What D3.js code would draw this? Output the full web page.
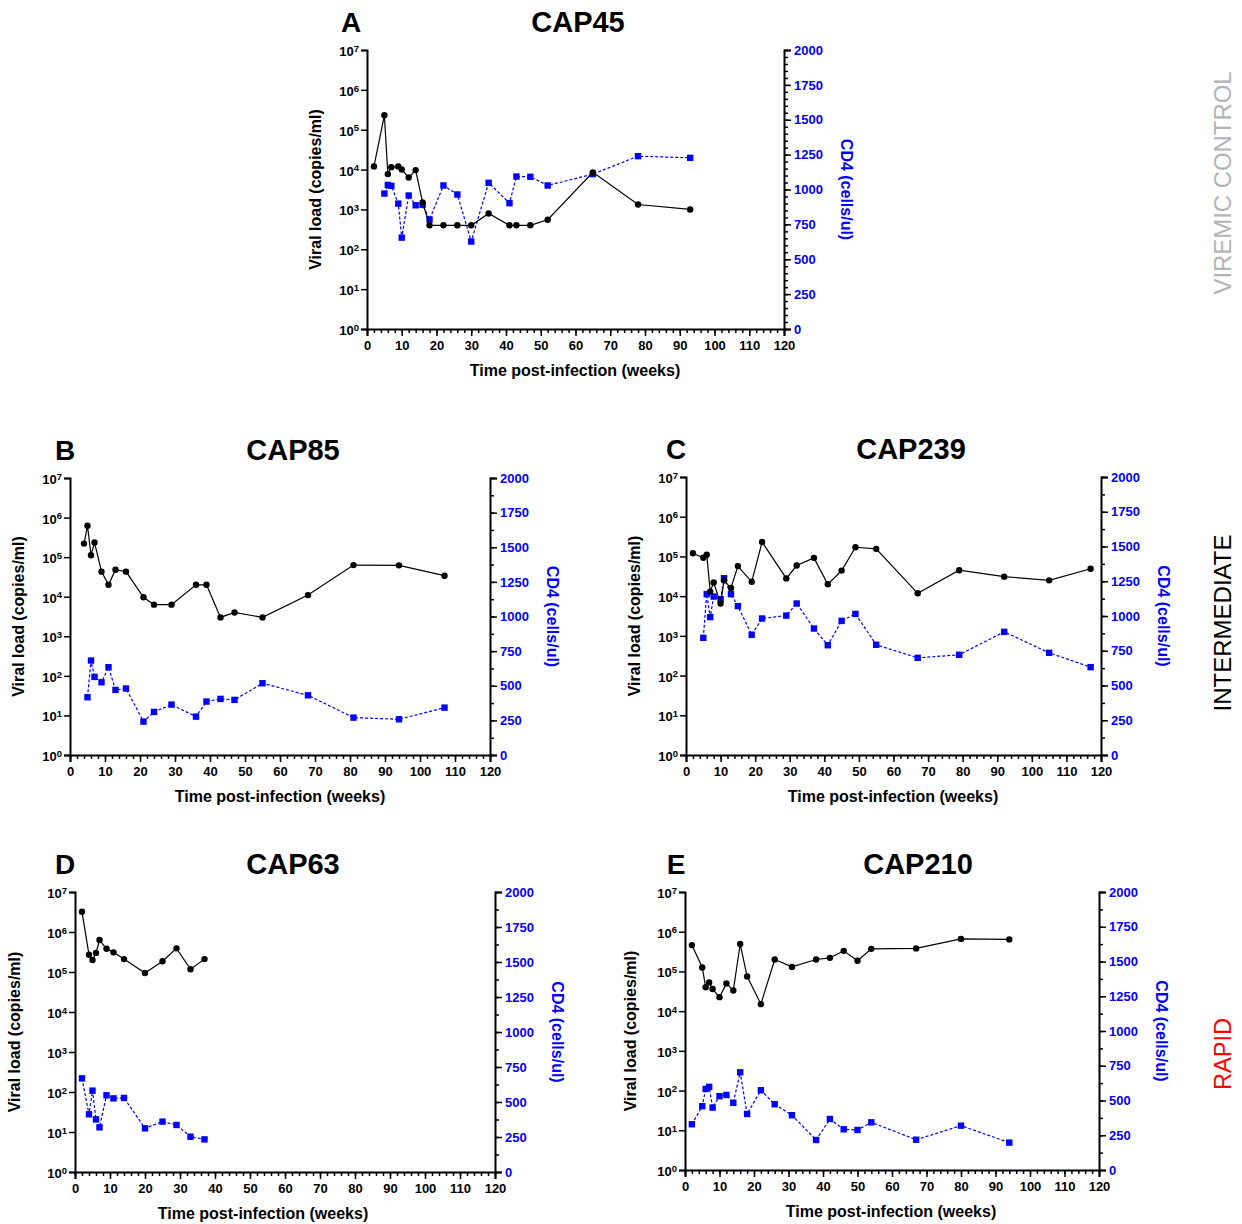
<!DOCTYPE html>
<html>
<head>
<meta charset="utf-8">
<script src="https://cdn.jsdelivr.net/npm/d3@7"></script>
<style>
  body { margin: 0; background: #fff; }
  svg { font-family: "Liberation Sans", Arial, Helvetica, sans-serif; }
</style>
</head>
<body>
<div id="container"></div>
<script>
// data: weeks, viral load (copies/ml), CD4 (cells/ul)
let cap45Weeks = [2, 5, 6, 7, 9, 10, 12, 14, 16, 18, 22, 26, 30, 35, 41, 43, 47, 52, 65, 78, 93];
let cap45VL    = [12000, 230000, 7700, 11500, 12000, 10000, 6300, 9700, 1500, 400, 400, 400, 400, 790, 400, 400, 400, 550, 8500, 1330, 1000];
let cap45CD4Weeks = [5, 6, 7, 9, 10, 12, 14, 16, 18, 22, 26, 30, 35, 41, 43, 47, 52, 65, 78, 93];
let cap45CD4      = [971, 1033, 1026, 899, 655, 957, 887, 890, 785, 1029, 964, 627, 1048, 902, 1093, 1091, 1029, 1110, 1239, 1227];

let cap85Weeks = [4, 5, 6, 7, 9, 11, 13, 16, 21, 24, 29, 36, 39, 43, 47, 55, 68, 81, 94, 107];
let cap85VL    = [220000, 620000, 112000, 235000, 43000, 20000, 48000, 43000, 9700, 6300, 6300, 20000, 20000, 3000, 4000, 3000, 11000, 63000, 62000, 34000];
let cap85CD4Weeks = [5, 6, 7, 9, 11, 13, 16, 21, 24, 29, 36, 39, 43, 47, 55, 68, 81, 94, 107];
let cap85CD4      = [417, 682, 564, 525, 634, 470, 480, 241, 311, 364, 277, 386, 405, 398, 518, 431, 270, 258, 342];

let cap239Weeks = [2, 5, 6, 7, 8, 10, 11, 13, 15, 19, 22, 29, 32, 37, 41, 45, 49, 55, 67, 79, 92, 105, 117];
let cap239VL    = [120000, 93000, 110000, 13000, 22000, 6500, 25000, 16000, 57000, 23000, 230000, 28000, 59000, 92000, 20000, 44000, 170000, 155000, 11800, 45000, 31000, 25000, 49000];
let cap239CD4Weeks = [5, 6, 7, 8, 10, 11, 13, 15, 19, 22, 29, 32, 37, 41, 45, 49, 55, 67, 79, 92, 105, 117];
let cap239CD4      = [843, 1157, 992, 1140, 1121, 1272, 1157, 1071, 865, 982, 1003, 1090, 910, 790, 965, 1015, 793, 699, 721, 886, 735, 632];

let cap63Weeks = [2, 4, 5, 6, 7, 9, 11, 14, 20, 25, 29, 33, 37];
let cap63VL    = [3200000, 270000, 200000, 300000, 630000, 380000, 310000, 210000, 94000, 185000, 390000, 117000, 210000];
let cap63CD4Weeks = [2, 4, 5, 6, 7, 9, 11, 14, 20, 25, 29, 33, 37];
let cap63CD4      = [669, 412, 581, 376, 319, 548, 526, 529, 312, 360, 336, 252, 233];

let cap210Weeks = [2, 5, 6, 7, 8, 10, 12, 14, 16, 18, 22, 26, 31, 38, 42, 46, 50, 54, 67, 80, 94];
let cap210VL    = [460000, 126000, 40000, 53000, 36000, 22500, 50000, 33000, 490000, 75000, 15000, 200000, 130000, 200000, 220000, 330000, 185000, 370000, 380000, 660000, 640000];
let cap210CD4Weeks = [2, 5, 6, 7, 8, 10, 12, 14, 16, 18, 22, 26, 31, 38, 42, 46, 50, 54, 67, 80, 94];
let cap210CD4      = [329, 459, 583, 598, 449, 531, 540, 483, 703, 403, 574, 473, 394, 216, 367, 293, 288, 343, 218, 319, 197];

let panelLetters = ["A", "B", "C", "D", "E"];
let panelNames   = ["CAP45", "CAP85", "CAP239", "CAP63", "CAP210"];

let vlTicks  = [1, 10, 100, 1e3, 1e4, 1e5, 1e6, 1e7];
let cd4Ticks = [0, 250, 500, 750, 1000, 1250, 1500, 1750, 2000];
let weekTicks = d3.range(0, 121, 10);
let weekMinor = d3.range(0, 121, 2);

let groupLabels = ["VIREMIC CONTROL", "INTERMEDIATE", "RAPID"];
let groupColors = ["#b4b4b4", "#000000", "#ff0000"];

let w = 1242;
let h = 1224;
let blue = "#0000ff";

let viz = d3.select("#container")
  .append("svg")
    .attr("width", w)
    .attr("height", h)
;

// where each panel sits on the page (xLab / yLab: where the axis titles go)
let layout = [
  {left: 367, right: 784, top: 50, bottom: 329, cd4Minor: 50, xLab: 575, yLab: 321},
  {left: 70, right: 490, top: 478, bottom: 755, cd4Minor: 125, xLab: 280, yLab: 24},
  {left: 686, right: 1101, top: 477, bottom: 755, cd4Minor: 125, xLab: 893, yLab: 640},
  {left: 75, right: 495, top: 892, bottom: 1172, cd4Minor: 125, xLab: 263, yLab: 20},
  {left: 685, right: 1099, top: 892, bottom: 1170, cd4Minor: 125, xLab: 891, yLab: 636}
];

let series = [
  [cap45Weeks, cap45VL, cap45CD4Weeks, cap45CD4],
  [cap85Weeks, cap85VL, cap85CD4Weeks, cap85CD4],
  [cap239Weeks, cap239VL, cap239CD4Weeks, cap239CD4],
  [cap63Weeks, cap63VL, cap63CD4Weeks, cap63CD4],
  [cap210Weeks, cap210VL, cap210CD4Weeks, cap210CD4]
];

function drawPanel(i){
  let L = layout[i];
  let s = series[i];
  let g = viz.append("g").classed("panel", true);

  let xScale = d3.scaleLinear().domain([0, 120]).range([L.left, L.right]);
  let yScale = d3.scaleLog().domain([1, 1e7]).range([L.bottom, L.top]);
  let cScale = d3.scaleLinear().domain([0, 2000]).range([L.bottom, L.top]);

  // x axis
  let xMinor = g.append("g").attr("transform", "translate(0," + L.bottom + ")")
    .call(d3.axisBottom(xScale).tickValues(weekMinor).tickSize(4).tickFormat(""));
  xMinor.select(".domain").remove();
  let xAxisGroup = g.append("g").attr("transform", "translate(0," + L.bottom + ")")
    .call(d3.axisBottom(xScale).tickValues(weekTicks).tickSize(7).tickPadding(5));

  // left log axis
  let yAxisGroup = g.append("g").attr("transform", "translate(" + L.left + ",0)")
    .call(d3.axisLeft(yScale).tickValues(vlTicks).tickSize(6).tickPadding(2).tickFormat(""));
  yAxisGroup.selectAll(".tick text").each(function(d){
    let t = d3.select(this);
    t.attr("dy", "0.42em");
    t.append("tspan").text("10");
    t.append("tspan").attr("dy", "-0.45em").attr("font-size", "9.5px").text(Math.round(Math.log10(d)));
  });

  // right CD4 axis
  let cMinor = g.append("g").attr("transform", "translate(" + L.right + ",0)")
    .call(d3.axisRight(cScale).tickValues(d3.range(0, 2001, L.cd4Minor)).tickSize(4).tickFormat(""));
  cMinor.select(".domain").remove();
  let cAxisGroup = g.append("g").attr("transform", "translate(" + L.right + ",0)")
    .call(d3.axisRight(cScale).tickValues(cd4Ticks).tickSize(7).tickPadding(3).tickFormat(d3.format("d")));
  cAxisGroup.selectAll("text").attr("fill", blue);

  g.selectAll(".domain").attr("stroke", "#000").attr("stroke-width", 2);
  g.selectAll(".tick line").attr("stroke", "#000").attr("stroke-width", 1.5);
  g.selectAll(".tick text")
    .attr("font-size", 13)
    .attr("font-weight", "bold")
    .attr("font-family", "'Liberation Sans', Arial, sans-serif");

  // titles
  let midY = (L.top + L.bottom) / 2;
  g.append("text")
    .attr("x", L.xLab).attr("y", L.bottom + 47)
    .attr("text-anchor", "middle")
    .attr("font-size", 16).attr("font-weight", "bold")
    .text("Time post-infection (weeks)");
  g.append("text")
    .attr("transform", "translate(" + L.yLab + "," + midY + ") rotate(-90)")
    .attr("text-anchor", "middle")
    .attr("font-size", 16).attr("font-weight", "bold")
    .text("Viral load (copies/ml)");
  g.append("text")
    .attr("transform", "translate(" + (L.right + 57) + "," + midY + ") rotate(90)")
    .attr("text-anchor", "middle")
    .attr("font-size", 16).attr("font-weight", "bold")
    .attr("fill", blue)
    .text("CD4 (cells/ul)");

  let letterX = i == 0 ? 351 : (i % 2 == 1 ? 65 : 676);
  let nameX = [578, 293, 911, 293, 918][i];
  g.append("text")
    .attr("x", letterX).attr("y", L.top - 18)
    .attr("text-anchor", "middle")
    .attr("font-size", 28).attr("font-weight", "bold")
    .text(panelLetters[i]);
  g.append("text")
    .attr("x", nameX).attr("y", L.top - 18)
    .attr("text-anchor", "middle")
    .attr("font-size", 29).attr("font-weight", "bold")
    .text(panelNames[i]);

  // viral load line (black circles) and CD4 line (blue squares)
  let vl = s[0].map(function(d, j){ return {x: d, y: s[1][j]}; });
  let cd = s[2].map(function(d, j){ return {x: d, y: s[3][j]}; });

  g.append("path")
    .datum(cd)
    .attr("fill", "none")
    .attr("stroke", blue)
    .attr("stroke-width", 1.2)
    .attr("stroke-dasharray", "3,2")
    .attr("d", d3.line().x(d => xScale(d.x)).y(d => cScale(d.y)));
  g.selectAll(".sq").data(cd).enter().append("rect")
    .classed("sq", true)
    .attr("x", d => xScale(d.x) - 3.2)
    .attr("y", d => cScale(d.y) - 3.2)
    .attr("width", 6.4).attr("height", 6.4)
    .attr("fill", blue);

  g.append("path")
    .datum(vl)
    .attr("fill", "none")
    .attr("stroke", "#000")
    .attr("stroke-width", 1.2)
    .attr("d", d3.line().x(d => xScale(d.x)).y(d => yScale(d.y)));
  g.selectAll(".dot").data(vl).enter().append("circle")
    .classed("dot", true)
    .attr("cx", d => xScale(d.x))
    .attr("cy", d => yScale(d.y))
    .attr("r", 3.2)
    .attr("fill", "#000");
}

for (let i = 0; i < 5; i++){
  drawPanel(i);
}

// group labels on the right edge
let groupY = [183, 623, 1054];
let groupLen = [223, 177, 72];
viz.selectAll(".group").data(groupLabels).enter().append("text")
  .classed("group", true)
  .attr("transform", (d, i) => "translate(1231," + groupY[i] + ") rotate(-90)")
  .attr("text-anchor", "middle")
  .attr("font-family", "'Liberation Sans Narrow', 'Arial Narrow', 'Liberation Sans', sans-serif")
  .attr("font-size", 24)
  .attr("textLength", (d, i) => groupLen[i])
  .attr("lengthAdjust", "spacingAndGlyphs")
  .attr("fill", (d, i) => groupColors[i])
  .text(d => d);
</script>
</body>
</html>
